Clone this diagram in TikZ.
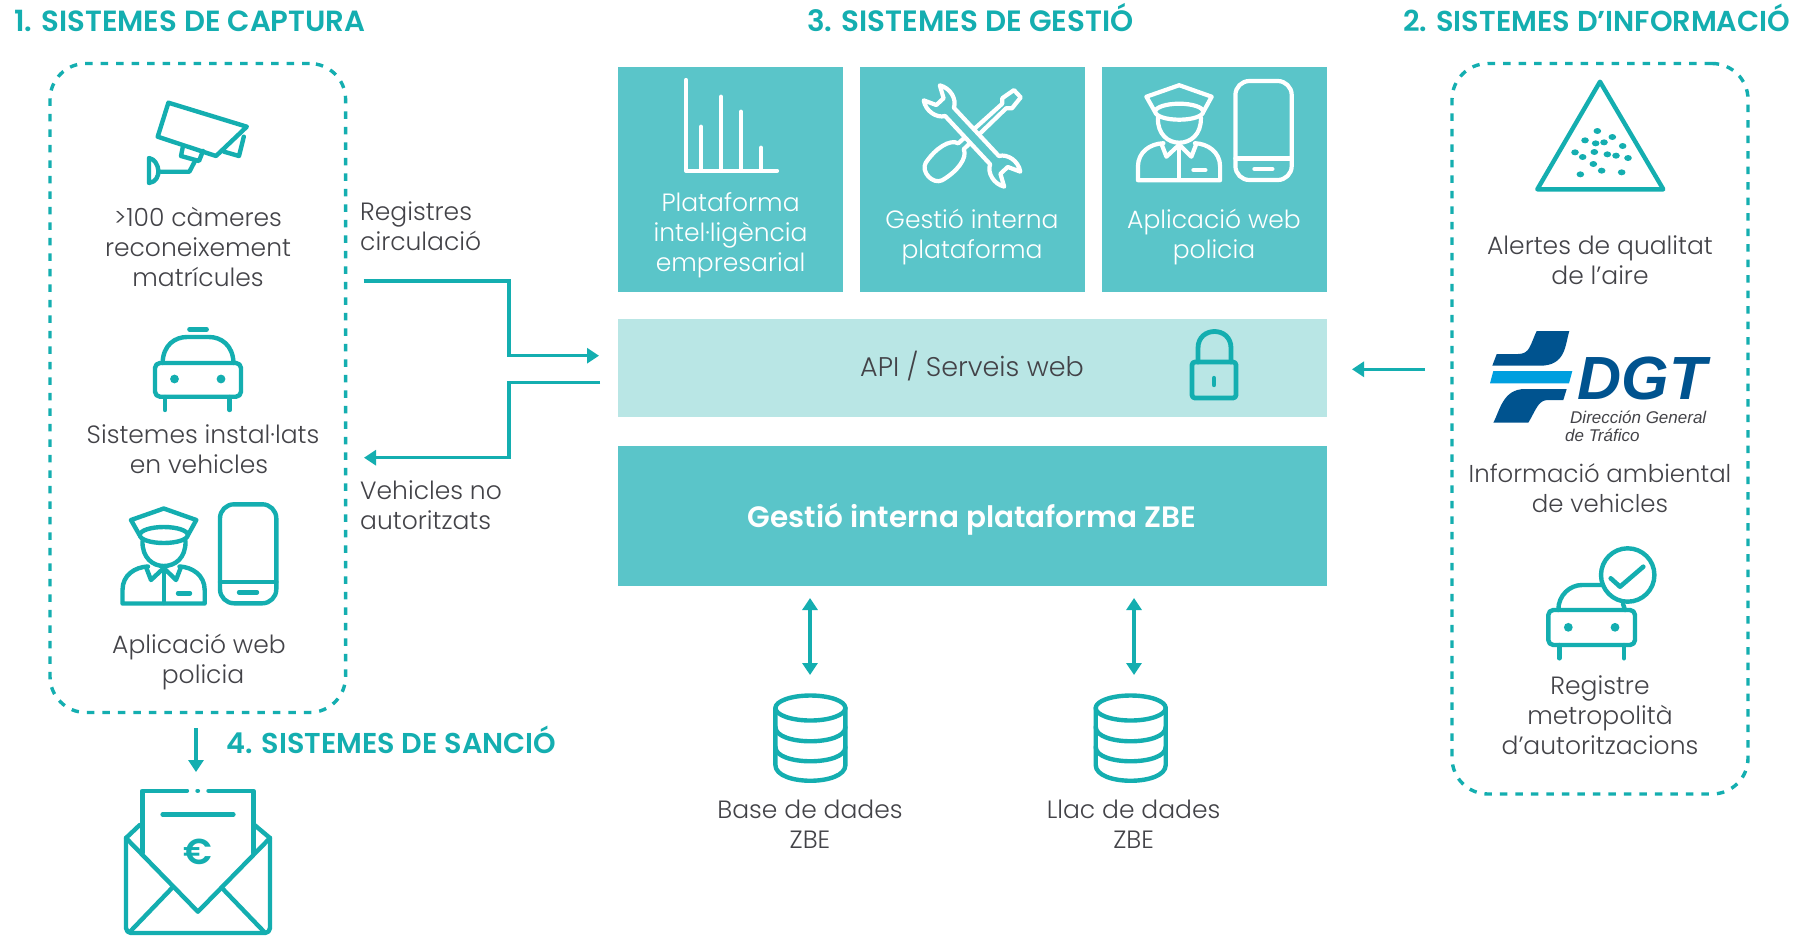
\documentclass[tikz,border=0pt]{standalone}
\usepackage{fontspec}
\usetikzlibrary{arrows.meta}
\setmainfont{Poppins}[UprightFont=* Light]
\newfontfamily\titlef{Poppins}[UprightFont=* SemiBold]
\newfontfamily\dgtf{Liberation Sans}
\definecolor{tealA}{HTML}{14AEB0}
\definecolor{tealB}{HTML}{5AC5C9}
\definecolor{tealC}{HTML}{B9E6E5}
\definecolor{txt}{HTML}{434348}
\definecolor{dgtdark}{HTML}{00538F}
\definecolor{dgtlight}{HTML}{009FDF}
\tikzset{
  zone/.style={draw=tealA,line width=3.4pt,dash pattern=on 7.5pt off 8pt,rounded corners=36pt,minimum width=#1,inner sep=0pt,outer sep=0pt,anchor=north west},
  tilebox/.style={fill=tealB,inner sep=0pt,outer sep=0pt,anchor=north west},
  apibox/.style={fill=tealC,inner sep=0pt,outer sep=0pt,anchor=north west},
  heading/.style={font=\titlef\fontsize{29.2}{32}\selectfont,text=tealA,inner sep=0pt,anchor=base west},
  body/.style={font=\fontsize{25}{30}\selectfont,text=txt,align=center,inner sep=0pt},
  bodyw/.style={font=\fontsize{25}{30}\selectfont,text=white,align=center,inner sep=0pt},
  bodyl/.style={font=\fontsize{25}{30}\selectfont,text=txt,align=left,inner sep=0pt,anchor=west},
  wire/.style={draw=tealA,line width=3.4pt},
  wirethin/.style={draw=tealA,line width=3.2pt},
  tip/.style={-{Triangle[length=12pt,width=15pt]}},
  ticon/.style={draw=tealA,line width=4.4pt,line cap=round,line join=round},
  wicon/.style={draw=white,line width=4.2pt,line cap=round,line join=round},
}
\newcommand{\policeicon}[3]{%
 \begin{scope}[shift={(#1,#2)},#3]
  \draw (131,520) -- (163.8,508.5) -- (196.3,520) -- (188,535) (139.5,535) -- (131,520);
  \draw (163.8,535) ellipse [x radius=24,y radius=8];
  \draw (142.5,541) .. controls (142,558) and (153,566) .. (163.8,566) .. controls (175,566) and (186,558) .. (185.5,541);
  \draw (148,566.5) .. controls (135,567) and (122.5,575) .. (122.5,590) -- (122.5,603.5) -- (204.7,603.5) -- (204.7,590) .. controls (204.7,575) and (192,567) .. (179.5,566.5);
  \draw (146,567) -- (151,580) -- (163.8,568) -- (176,580) -- (181,567);
  \draw (163.8,570) -- (163.8,603);
  \draw (178,593.3) -- (190,593.3);
  \draw[rounded corners=14pt] (220,504.3) rectangle (276.3,603.3);
  \draw (220,581.7) -- (276.3,581.7);
  \draw (239,592.3) -- (257,592.3);
 \end{scope}}
\newcommand{\dbicon}[1]{%
 \begin{scope}[shift={(#1,0)},ticon]
  \draw (0,708) ellipse [x radius=35,y radius=12.5];
  \draw (-35,708) -- (-35,765) .. controls (-35,786) and (35,786) .. (35,765) -- (35,708);
  \draw (-35,727) .. controls (-35,746) and (35,746) .. (35,727);
  \draw (-35,747) .. controls (-35,766) and (35,766) .. (35,747);
 \end{scope}}
\begin{document}
\begin{tikzpicture}[x=1pt,y=-1pt]
\useasboundingbox (0,0) rectangle (1795,935);
\fill[white] (0,0) rectangle (1795,935);
% zones
\node[zone=295.6pt,minimum height=649pt] (capture) at (50,63.5) {};
\node[zone=296pt,minimum height=730.5pt] (info) at (1452,63.5) {};
% headings
\node[heading] (h1) at (14,31.5) {1. SISTEMES DE CAPTURA};
\node[heading,font=\titlef\fontsize{29.4}{32}\selectfont] (h3) at (807,31.5) {3. SISTEMES DE GESTIÓ};
\node[heading,font=\titlef\fontsize{28.8}{32}\selectfont] (h2) at (1403,31.5) {2. SISTEMES D’INFORMACIÓ};
\node[heading,font=\titlef\fontsize{28.7}{32}\selectfont] (h4) at (226,753) {4. SISTEMES DE SANCIÓ};
% tiles
\node[tilebox,minimum width=225pt,minimum height=225pt] (t1) at (618,66.7) {};
\node[tilebox,minimum width=225pt,minimum height=225pt] (t2) at (860,66.7) {};
\node[tilebox,minimum width=225pt,minimum height=225pt] (t3) at (1102,66.7) {};
\node[apibox,minimum width=709pt,minimum height=97.7pt] (api) at (618,319) {};
\node[tilebox,minimum width=709pt,minimum height=140.5pt] (zbe) at (618,445.5) {};
% tile texts
\node[bodyw] (t1t) at (730.6,235.4) {Plataforma\\intel·ligència\\empresarial};
\node[bodyw] (t2t) at (972,236.9) {Gestió interna\\plataforma};
\node[bodyw] (t3t) at (1214,236.9) {Aplicació web\\policia};
\node[body,font=\fontsize{27}{30}\selectfont] (apit) at (972,366) {API / Serveis web};
\node[font=\titlef\fontsize{29.5}{32}\selectfont,text=white,inner sep=0pt] (zbet) at (972,519) {Gestió interna plataforma ZBE};
% chart icon
\draw[wicon] (686,80) -- (686,170.7) -- (777,170.7);
\draw[wicon] (701,126.7) -- (701,170.7) (721,96.7) -- (721,170.7) (741,111.7) -- (741,170.7) (761,147.7) -- (761,170.7);
% tools icon
\begin{scope}[shift={(972,136)},rotate=-47]
 \draw[wicon,fill=tealB,rotate=90] (-15,-4) -- (44,-3) -- (48,-7) -- (62,-5) -- (62,5) -- (48,7) -- (44,3) -- (-15,4) .. controls (-18,13) and (-35,16) .. (-52,12) .. controls (-62,9) and (-62,-9) .. (-52,-12) .. controls (-35,-16) and (-18,-13) .. (-15,-4) -- cycle;
 \draw[wicon,fill=tealB] (33,-6) .. controls (37,-14) and (50,-17) .. (59,-11) -- (47,-5) -- (47,5) -- (59,11) .. controls (50,17) and (37,14) .. (33,6) -- (-33,6) .. controls (-37,14) and (-50,17) .. (-59,11) -- (-47,5) -- (-47,-5) -- (-59,-11) .. controls (-50,-17) and (-37,-14) .. (-33,-6) -- cycle;
\end{scope}
\policeicon{1015.4}{-423.3}{wicon}
% lock
\begin{scope}[ticon]
 \draw[line width=4.8pt,rounded corners=3pt] (1192,362) rectangle (1236,398);
 \draw[line width=4.8pt] (1198,362) -- (1198,348) .. controls (1198,326) and (1231,326) .. (1231,348) -- (1231,362);
 \draw (1214,378) -- (1214,385);
\end{scope}
% camera
\begin{scope}[ticon]
 \draw (168.4,102.7) -- (246.8,126.7) -- (216,156) -- (157.7,136.7) -- cycle;
 \draw (243.8,136.7) -- (239,156) -- (224,151.7);
 \draw (183,146) -- (181,156) -- (199,161) -- (203,151);
 \draw (195,161) -- (189.4,171.7) -- (160.7,171.7);
 \draw (149,158) .. controls (160,160) and (163,181) .. (149,183) -- cycle;
\end{scope}
\node[body] (camt) at (198,247) {>100 càmeres\\reconeixement\\matrícules};
% taxi
\begin{scope}[ticon]
 \draw (189.4,329.3) -- (206.7,329.3);
 \draw (162.6,363) .. controls (163,345) and (175,337) .. (187,337) -- (209,337) .. controls (221,337) and (233,345) .. (233.5,363);
 \draw[rounded corners=5pt] (155,363) rectangle (241,396.7);
 \draw (165,397) -- (165,410) (229.6,397) -- (229.6,410);
 \fill[tealA,draw=none] (174.5,379) circle (4.4) (221,379) circle (4.4);
\end{scope}
\node[body] (taxit) at (199,449) {\hspace*{8pt}Sistemes instal·lats\\en vehicles};
\policeicon{0}{0}{ticon}
\node[body] (polt) at (199,662.4) {Aplicació web\\\hspace*{8pt}policia};
% envelope
\begin{scope}[ticon]
 \draw (142.4,853) -- (142.4,790.7) -- (187,790.7) (197.5,790.7) -- (197.9,790.7) (208.5,790.7) -- (253.4,790.7) -- (253.4,853);
 \draw (162.6,814.3) -- (233.4,814.3);
 \draw (139.7,825) -- (126,838) -- (197.9,911.7) -- (270,838) -- (254.5,825);
 \draw[rounded corners=5pt] (126,838) -- (126,933) -- (270,933) -- (270,838);
 \draw (130,931.7) -- (172,888) (264,931.7) -- (222,888);
\end{scope}
\node[font=\titlef\fontsize{36}{40}\selectfont,text=tealA,inner sep=0pt] (euro) at (197.9,851.7) {€};
% side labels
\node[bodyl] (regt) at (360,226.5) {Registres\\circulació};
\node[bodyl] (vehnt) at (360,505.5) {Vehicles no\\autoritzats};
% info column
\begin{scope}[ticon]
 \draw (1600,81.7) -- (1663.3,189.3) -- (1537.3,189.3) -- cycle;
 \foreach \px/\py in {592/393,555/421,637/411,587/430,612/427,668/438,525/457,548/471,583/456,622/463,648/467,684/474,580/492,605/512,665/517,541/523}
  \fill[tealA,draw=none] ({\px/3+1400},{\py/3}) ellipse [x radius=3.8,y radius=3];
\end{scope}
\node[body] (airt) at (1600,260) {Alertes de qualitat\\de l’aire};
% DGT logo
\fill[dgtdark] (1536.7,331) -- (1569.3,331) .. controls (1565,345) and (1566,365.7) .. (1540,365.7) -- (1492.3,365.7) -- (1496.7,354) -- (1518,354) .. controls (1530,354) and (1530,345) .. cycle;
\fill[dgtlight] (1493.3,371) -- (1572.3,371) -- (1569,383.3) -- (1490,383.3) -- cycle;
\fill[dgtdark] (1566.7,389) -- (1563.3,400) -- (1548,400) .. controls (1538,400) and (1536,410) .. (1528.3,422.7) -- (1493.3,422.7) .. controls (1500,410) and (1503,389) .. (1525,389) -- cycle;
\node[font=\dgtf\bfseries\itshape\fontsize{61}{61}\selectfont,text=dgtdark,inner sep=0pt] (dgt) at (1642,378.5) {DGT};
\node[font=\dgtf\itshape\fontsize{17}{19}\selectfont,text=txt,inner sep=0pt,anchor=west] (dgt1) at (1570,417) {Dirección General};
\node[font=\dgtf\itshape\fontsize{17}{19}\selectfont,text=txt,inner sep=0pt,anchor=west] (dgt2) at (1565,435) {de Tráfico};
\node[body,font=\fontsize{24.4}{30}\selectfont] (ambt) at (1600,488.5) {Informació ambiental\\de vehicles};
% car with check
\begin{scope}[ticon]
 \draw (1558.3,610) .. controls (1558.3,595) and (1570,585) .. (1582,585) -- (1603,585);
 \draw[rounded corners=5pt] (1548.3,610) rectangle (1635,645);
 \draw (1623,604) -- (1625,610);
 \draw (1559.3,645) -- (1559.3,658.3) (1624,645) -- (1624,658.3);
 \fill[tealA,draw=none] (1568.3,627.3) circle (4.4) (1615,627.3) circle (4.4);
 \draw (1627.7,575) circle (26.7);
 \draw[line width=4.6pt] (1610.7,578.3) -- (1620,586.7) -- (1643.3,566.7);
\end{scope}
\node[body] (regm) at (1600,715) {Registre\\metropolità\\d’autoritzacions};
% databases
\dbicon{810.4}
\dbicon{1130.7}
\node[body] (db1t) at (810,824.5) {Base de dades\\ZBE};
\node[body] (db2t) at (1133.6,824.5) {Llac de dades\\ZBE};
% connector ends
\coordinate (a1) at (363.6,281);
\coordinate (a2) at (599,355.7);
\coordinate (b1) at (600,382.3);
\coordinate (b2) at (364,457.7);
\coordinate (c1) at (1425,369.3);
\coordinate (c2) at (1352,369.3);
\coordinate (d1) at (196,728);
\coordinate (d2) at (196,772);
\coordinate (e1) at (810,598);
\coordinate (e2) at (810,675);
\coordinate (f1) at (1134,598);
\coordinate (f2) at (1134,675);
\draw[wire,tip] (a1) -- (509,281) -- (509,355.7) -- (a2);
\draw[wire,tip] (b1) -- (509,382.3) -- (509,457.7) -- (b2);
\draw[wire,tip] (c1) -- (c2);
\draw[wirethin,tip] (d1) -- (d2);
\draw[wirethin,{Triangle[length=12pt,width=15pt]}-{Triangle[length=12pt,width=15pt]}] (e1) -- (e2);
\draw[wirethin,{Triangle[length=12pt,width=15pt]}-{Triangle[length=12pt,width=15pt]}] (f1) -- (f2);
\end{tikzpicture}
\end{document}
